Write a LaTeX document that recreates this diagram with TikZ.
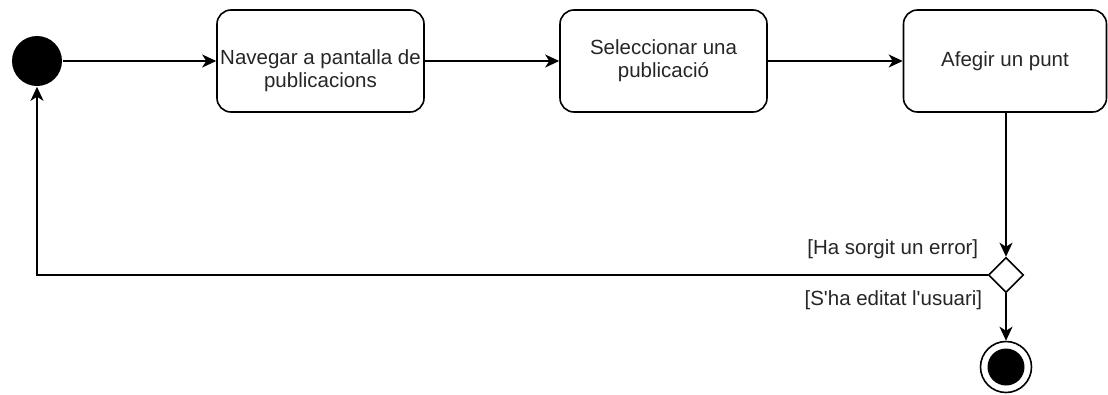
\documentclass[tikz,border=0pt]{standalone}
\usepackage{fontspec}
\setmainfont{Liberation Sans}[Ligatures=TeXOff]
\usetikzlibrary{arrows.meta,shapes.geometric}
\definecolor{txt}{RGB}{38,38,38}
\begin{document}
\begin{tikzpicture}[x=1pt,y=-1pt,
  font=\fontsize{20.5}{23}\selectfont,
  line width=1.6pt,
  actbox/.style={draw, rounded corners=14pt, minimum width=207pt, minimum height=102pt, inner sep=0pt, align=center, text=txt, anchor=center},
  flow/.style={-{Stealth[length=14pt,width=13pt,inset=4pt]}},
  lbl/.style={text=txt, inner sep=0pt, anchor=east}
]
\useasboundingbox (0,0) rectangle (1108,394);
\node[circle, fill=black, minimum size=50pt, inner sep=0pt] (start) at (37,61) {};
\node[actbox] (a1) at (320.5,61) {};
\node[text=txt, align=center, inner sep=0pt] (t1) at (320.5,71) {Navegar a pantalla de\\publicacions};
\node[actbox] (a2) at (663.5,61) {Seleccionar una\\publicació};
\node[actbox, minimum width=203pt] (a3) at (1005,61) {Afegir un punt};
\node[diamond, draw, fill=white, minimum width=35pt, minimum height=35pt, inner sep=0pt] (dec) at (1006,275) {};
\node[circle, draw, minimum size=51pt, inner sep=0pt] (endo) at (1006,367) {};
\node[circle, fill=black, minimum size=37pt, inner sep=0pt] (endi) at (1006,367) {};
\coordinate (corner) at (37,275);
\draw[flow] (start) -- (a1);
\draw[flow] (a1) -- (a2);
\draw[flow] (a2) -- (a3);
\draw[flow] (dec |- a3.south) -- (dec.north);
\draw[flow] (dec.south) -- (endo.north);
\draw[flow] (dec.west) -- (corner) -- (start.south);
\node[lbl] (l1) at (979,249) {[Ha sorgit un error]};
\node[lbl] (l2) at (983,300) {[S'ha editat l'usuari]};
\end{tikzpicture}
\end{document}
